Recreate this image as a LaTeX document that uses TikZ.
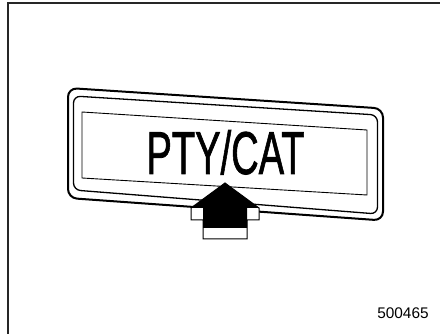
\documentclass[tikz,border=0pt]{standalone}
\usepackage{fontspec}
\setmainfont{Liberation Sans}
\newfontface\platefont[FakeBold=1.4]{Liberation Sans}

\begin{document}
\begin{tikzpicture}[
    x=1pt, y=-1pt,
    frameline/.style={line width=2pt, black!85},
    plate/.style={line width=2pt, rounded corners=9pt},
    platemid/.style={line width=1.3pt, rounded corners=7pt},
    window/.style={line width=0.9pt},
    marker/.style={draw=black, line width=1pt, line join=miter, fill=white},
    caption/.style={font=\platefont\fontsize{60.5}{62}\selectfont, inner sep=0pt, anchor=base, xscale=0.63},
    figno/.style={font=\fontsize{15.4}{16}\selectfont, inner sep=0pt, anchor=base}
]
    \useasboundingbox (0,0) rectangle (440,334);

    % outer frame
    \coordinate (fTL) at (7.5,3.5);
    \draw[frameline] (440,3.5) -- (fTL) -- (7.5,334);

    % the label plate
    \draw[plate] (68,88) -- (383,108.5) -- (383,220.5) -- (68,198) -- cycle;
    \draw[platemid] (73.5,96) -- (377.5,115) -- (377.5,214) -- (73.5,190) -- cycle;
    \draw[window] (82,112) -- (367,130) -- (367,195) -- (82,178) -- cycle;

    \node[caption] (ptycat) at (225.5,174) {PTY/CAT};

    % pointer
    \draw[marker] (225,183) -- (259,208) -- (259,220) -- (247,220) -- (247,239)
        -- (203,239) -- (203,220) -- (191,220) -- (191,208) -- cycle;
    \fill (225,183) -- (259,208) -- (247,208) -- (247,228) -- (203,228)
        -- (203,208) -- (191,208) -- cycle;

    \node[figno] (num) at (403,319) {500465};
\end{tikzpicture}
\end{document}
